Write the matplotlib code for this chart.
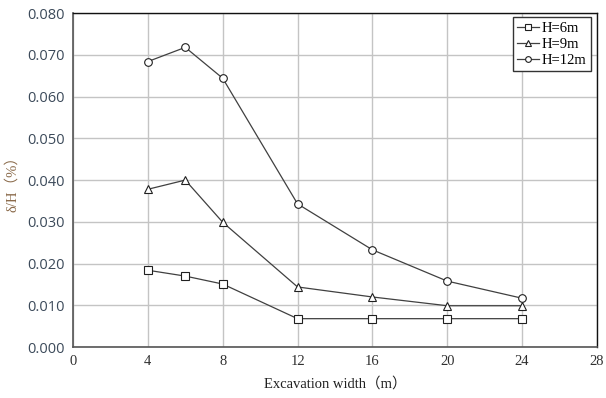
import matplotlib
matplotlib.use("Agg")
import matplotlib.pyplot as plt

# excavation width (m)
width = [4, 6, 8, 12, 16, 20, 24]

# delta/H (%) for each wall height
h6 = [0.0184, 0.0170, 0.0151, 0.0068, 0.0068, 0.0068, 0.0068]
h9 = [0.0378, 0.0400, 0.0299, 0.0144, 0.0120, 0.0099, 0.0099]
h12 = [0.0684, 0.0718, 0.0644, 0.0343, 0.0233, 0.0158, 0.0117]

labels = ["H=6m", "H=9m", "H=12m"]
markers = ["s", "^", "o"]

serif = ["Liberation Serif", "Noto Sans CJK JP"]

fig = plt.figure(figsize=(6.06, 3.98), dpi=100)
ax = fig.add_axes([0.1205, 0.128, 0.8645, 0.839])

for ys, lab, mk in zip([h6, h9, h12], labels, markers):
    ax.plot(width, ys, color="#404040", lw=0.9, marker=mk, ms=5.5,
            mfc="white", mec="#202020", mew=0.8, label=lab)

ax.set_xlim(0, 28)
ax.set_ylim(0, 0.08)
ax.set_xticks(range(0, 29, 4))
ax.set_yticks([i * 0.01 for i in range(9)])
ax.set_yticklabels([f"{i * 0.01:.3f}" for i in range(9)],
                   family="Open Sans", fontsize=10.5, color="#3c4a5a")
ax.set_xticklabels([str(v) for v in range(0, 29, 4)], family=serif,
                   fontsize=10.5, color="#303030")
ax.tick_params(length=0, pad=6)
ax.grid(True, color="#c4c4c4", lw=1.0)
ax.set_axisbelow(True)

for s in ["left", "bottom"]:
    ax.spines[s].set_color("#555555")
    ax.spines[s].set_linewidth(1.2)
for s in ["top", "right"]:
    ax.spines[s].set_color("#111111")
    ax.spines[s].set_linewidth(1.0)

ax.set_xlabel("Excavation width（m）", family=serif, fontsize=10.5,
              color="#202020", labelpad=6)
ax.set_ylabel("δ/H（%）", family=serif, fontsize=10.5, color="#8a6a4a",
              labelpad=6)

leg = ax.legend(loc="upper right", bbox_to_anchor=(0.989, 0.988),
                prop={"family": serif, "size": 10.5}, fancybox=False,
                framealpha=1, edgecolor="#333333", handlelength=1.5,
                handletextpad=0.2, borderpad=0.3, labelspacing=0.2,
                borderaxespad=0, markerscale=0.75)
leg.get_frame().set_linewidth(1.0)

fig.savefig("out.png", dpi=100)
